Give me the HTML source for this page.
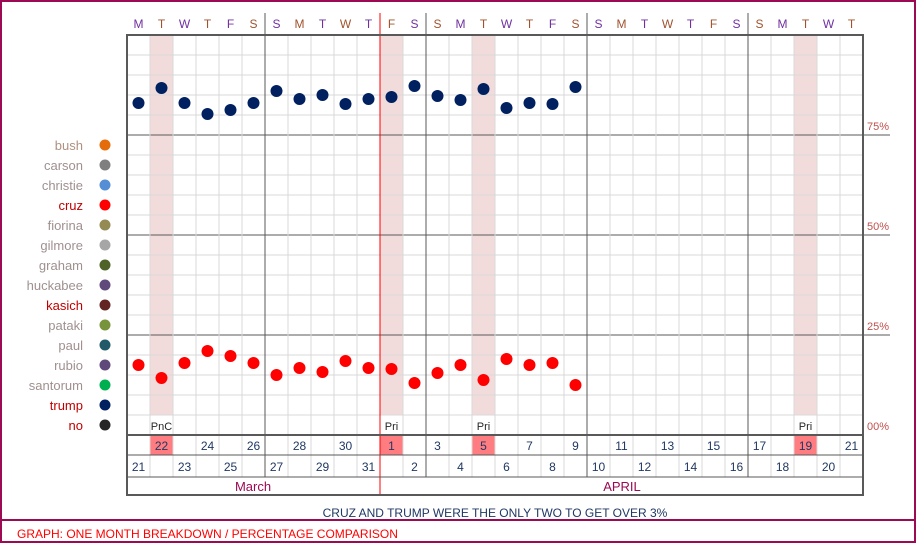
<!DOCTYPE html>
<html><head><meta charset="utf-8"><style>
body{margin:0;background:#fff;}
svg{display:block;font-family:"Liberation Sans",sans-serif;}
</style></head><body>
<svg id="c" width="916" height="543"></svg>
<script>
const days=["M","T","W","T","F","S","S","M","T","W","T","F","S","S","M","T","W","T","F","S","S","M","T","W","T","F","S","S","M","T","W","T"];
const dates=[21,22,23,24,25,26,27,28,29,30,31,1,2,3,4,5,6,7,8,9,10,11,12,13,14,15,16,17,18,19,20,21];
const highlightIdx=[1,11,15,29];
const eventLabels=["PnC","Pri","Pri","Pri"];
const trump=[83,86.75,83,80.25,81.25,83,86,84,85,82.75,84,84.5,87.25,84.75,83.75,86.5,81.75,83,82.75,87];
const cruz=[17.5,14.25,18,21,19.75,18,15,16.75,15.75,18.5,16.75,16.5,13,15.5,17.5,13.75,19,17.5,18,12.5];
const yTicks=[0,25,50,75];
const legendNames=["bush","carson","christie","cruz","fiorina","gilmore","graham","huckabee","kasich","pataki","paul","rubio","santorum","trump","no"];
const legendColors=["#e46c0a","#7f7f7f","#558ed5","#ff0000","#948a54","#a6a6a6","#4f6228","#604a7b","#632523","#77933c","#215968","#5f497a","#00b050","#002060","#262626"];
const legendText=["#b09080","#a09090","#a09090","#c00000","#a09090","#a09090","#a09090","#a09090","#c00000","#a09090","#a09090","#a09090","#a09090","#c00000","#c00000"];
const S=document.getElementById('c'),NS="http://www.w3.org/2000/svg";
const X0=127,CW=23,Y0=435,PY=4,TOP=35,R=863;
const x=i=>X0+CW*i+CW/2, y=v=>Y0-v*PY;
function el(t,a,p){const e=document.createElementNS(NS,t);for(const k in a)e.setAttribute(k,a[k]);(p||S).appendChild(e);return e;}
function tx(s,a){const e=el('text',a);e.textContent=s;return e;}
let e;
e=el('rect',{x:1,y:1,width:914,height:541,fill:'none',stroke:'#9b0a53','stroke-width':2});

e=el('line',{x1:0,x2:916,y1:520,y2:520,stroke:'#9b0a53','stroke-width':2});

highlightIdx.forEach((d,k)=>{
 e=el('rect',{x:X0+CW*d,y:TOP,width:CW,height:380,fill:'#f2dcdb'});
 
 e=el('rect',{x:X0+CW*d,y:435,width:CW,height:20,fill:'#ff7c80'});
 
 e=tx(eventLabels[k],{x:x(d),y:430,'font-size':11,'text-anchor':'middle',fill:'#262626'});
 
});
for(let v=5;v<100;v+=5){e=el('line',{x1:X0,x2:R,y1:y(v),y2:y(v),stroke:v%25?'#d9d9d9':'#595959','stroke-width':1});
 }
yTicks.slice(1).forEach(v=>{e=el('line',{x1:R,x2:890,y1:y(v),y2:y(v),stroke:'#595959'});});
for(let i=1;i<days.length;i++){
 const xx=X0+CW*i, wk=days[i]=="S"&&days[i-1]=="S", red=(i==11);
 e=el('line',{x1:xx,x2:xx,y1:wk||red?13:TOP,y2:red?495:(wk?477:477),stroke:red?'#ff0000':(wk?'#595959':'#d9d9d9')});
 
}
e=el('rect',{x:X0,y:TOP,width:R-X0,height:460,fill:'none',stroke:'#595959','stroke-width':2});

[435,455,477].forEach(yy=>{e=el('line',{x1:X0,x2:R,y1:yy,y2:yy,stroke:'#595959','stroke-width':yy==435?2:1});});
days.forEach((d,i)=>{e=tx(d,{x:x(i),y:28,'font-size':12,'text-anchor':'middle',fill:i%2?'#a0522d':'#7030a0'});
 });
dates.forEach((d,i)=>{e=tx(d,{x:x(i),y:i%2?450:471,'font-size':12,'text-anchor':'middle',fill:'#1f3864'});
 });
yTicks.forEach(v=>{e=tx(v==0?'00%':v+'%',{x:867,y:y(v)-5,'font-size':11,fill:'#c0504d'});
 });
e=tx('March',{x:253,y:491,'font-size':13,'text-anchor':'middle',fill:'#9b0a53'});
e=tx('APRIL',{x:622,y:491,'font-size':13,'text-anchor':'middle',fill:'#9b0a53'});
trump.forEach((v,i)=>{e=el('circle',{cx:x(i),cy:y(v),r:6,fill:'#002060'});});
cruz.forEach((v,i)=>{e=el('circle',{cx:x(i),cy:y(v),r:6,fill:'#ff0000'});});
legendNames.forEach((n,i)=>{const yy=145+20*i;
 e=tx(n,{x:83,y:yy+5,'font-size':13,'text-anchor':'end',fill:legendText[i]});
 e=el('circle',{cx:105,cy:yy,r:5.5,fill:legendColors[i]});});
e=tx('CRUZ AND TRUMP WERE THE ONLY TWO TO GET OVER 3%',{x:495,y:517,'font-size':12,'text-anchor':'middle',fill:'#1f3864'});
e=tx('GRAPH: ONE MONTH BREAKDOWN / PERCENTAGE COMPARISON',{x:17,y:538,'font-size':12,fill:'#ff0000'});
</script></body></html>
